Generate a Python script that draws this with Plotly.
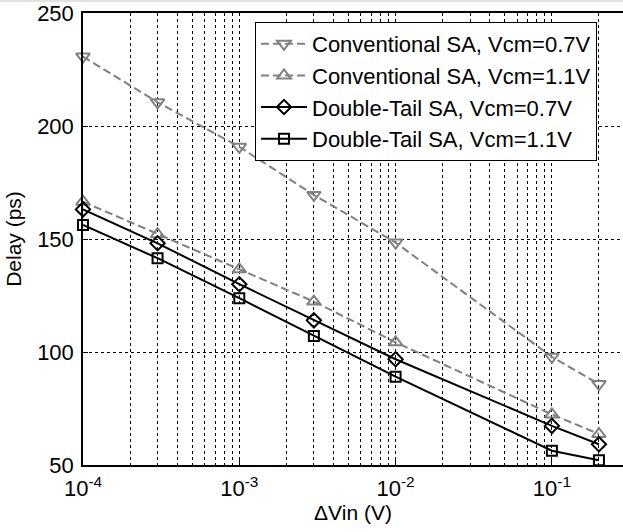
import numpy as np
import plotly.graph_objects as go

# ---- data ----
dvin = [1e-4, 3e-4, 1e-3, 3e-3, 1e-2, 1e-1, 2e-1]
conv_07 = [230.7, 210.5, 190.8, 169.5, 148.4, 97.9, 85.8]
conv_11 = [166.5, 152.1, 136.6, 122.3, 104.3, 72.4, 63.7]
dt_07 = [163.1, 148.1, 130.0, 114.0, 96.8, 67.3, 59.2]
dt_11 = [156.2, 141.5, 123.8, 107.1, 89.1, 56.3, 52.1]

names = ["Conventional SA, Vcm=0.7V", "Conventional SA, Vcm=1.1V",
         "Double-Tail SA, Vcm=0.7V", "Double-Tail SA, Vcm=1.1V"]
x_tickvals = [1e-4, 1e-3, 1e-2, 1e-1]
x_ticktext = ["10<sup>-4</sup>", "10<sup>-3</sup>", "10<sup>-2</sup>", "10<sup>-1</sup>"]
y_tickvals = [50, 100, 150, 200, 250]

FONT = "Liberation Sans, Arial, Helvetica, sans-serif"
GREY = "#808080"

fig = go.Figure()
styles = [
    (conv_07, GREY, "dash", "triangle-down-open", 12),
    (conv_11, GREY, "dash", "triangle-up-open", 12),
    (dt_07, "black", "solid", "diamond-open", 11),
    (dt_11, "black", "solid", "square-open", 10),
]
for (vals, col, dash, sym, sz), nm in zip(styles, names):
    fig.add_trace(go.Scatter(
        x=dvin, y=vals, name=nm, mode="lines+markers",
        line=dict(color=col, width=2, dash=("8px,4px" if dash == "dash" else "solid")),
        marker=dict(symbol=sym, size=sz, color=col, line=dict(color=col, width=2)),
        cliponaxis=False,
    ))

grid = dict(gridcolor="black", gridwidth=1, griddash="3px,3px")
fig.update_layout(
    width=623, height=532,
    margin=dict(l=83, r=0, t=13, b=67),
    paper_bgcolor="white", plot_bgcolor="white",
    font=dict(family=FONT, size=22, color="black"),
    showlegend=True,
    legend=dict(
        x=0.3185, y=0.98, xanchor="left", yanchor="top",
        bgcolor="white", bordercolor="black", borderwidth=1,
        font=dict(family=FONT, size=22, color="black"),
        tracegroupgap=0, itemwidth=46,
    ),
    xaxis=dict(
        type="log", range=[-4, -0.545],
        tickvals=x_tickvals, ticktext=x_ticktext,
        tickfont=dict(size=22),
        showline=True, linecolor="black", linewidth=1.5, mirror=True,
        ticks="inside", ticklen=5, tickcolor="black",
        showgrid=True, **grid,
        minor=dict(dtick="D1", showgrid=True, ticks="", **grid),
        zeroline=False,
        ticklabelstandoff=3,
        title=dict(text="ΔVin (V)", font=dict(size=21), standoff=4),
    ),
    yaxis=dict(
        range=[50, 250], tickvals=y_tickvals,
        tickfont=dict(size=22),
        showline=True, linecolor="black", linewidth=1.5, mirror=False,
        ticks="inside", ticklen=5, tickcolor="black",
        showgrid=True, **grid,
        zeroline=False,
        ticklabelstandoff=3,
        title=dict(text="Delay (ps)", font=dict(size=21), standoff=10),
    ),
    shapes=[dict(type="rect", xref="paper", yref="paper",
                 x0=-0.2, x1=1.0, y0=1 + 11 / 452, y1=1 + 14 / 452,
                 line=dict(width=0), fillcolor="#e2e2e2", layer="above")],
)

fig.write_html("out.html", config={"displayModeBar": False},
               post_script="document.body.style.margin='0px';document.body.style.overflow='hidden';")
